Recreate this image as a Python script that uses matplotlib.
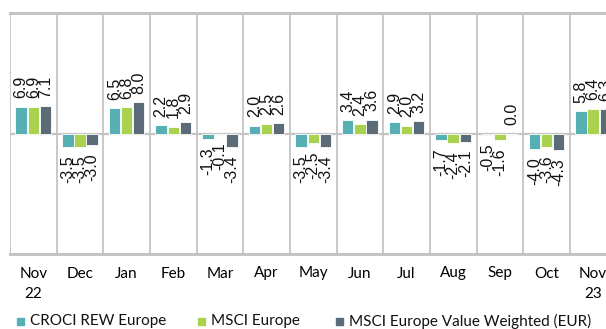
import numpy as np
import matplotlib.pyplot as plt
from matplotlib.patches import Rectangle

plt.rcParams['font.family'] = ['Lato', 'DejaVu Sans']

# Monthly returns (%)
months = ['Nov\n22', 'Dec', 'Jan', 'Feb', 'Mar', 'Apr', 'May', 'Jun', 'Jul',
          'Aug', 'Sep', 'Oct', 'Nov\n23']
croci = [6.9, -3.5, 6.5, 2.2, -1.3, 2.0, -3.5, 3.4, 2.9, -1.7, -0.5, -4.0, 5.8]
msci = [6.9, -3.5, 6.8, 1.8, -0.1, 2.5, -2.5, 2.4, 2.0, -2.4, -1.6, -3.6, 6.4]
msci_value = [7.1, -3.0, 8.0, 2.9, -3.4, 2.6, -3.4, 3.6, 3.2, -2.1, 0.0, -4.3, 6.3]
series_names = ['CROCI REW Europe', 'MSCI Europe', 'MSCI Europe Value Weighted (EUR)']

colors = ['#55AFB3', '#A9D24F', '#5B6C78']
grid_c = '#C4C4C4'

fig = plt.figure(figsize=(6.06, 3.29), dpi=100)
W, H = 606, 329
ax = fig.add_axes([10 / W, 1 - 254 / H, 606.5 / W, 241 / H])

x = np.arange(len(months))
w = 0.245
offsets = [-0.26, 0, 0.26]
for vals, off, c in zip([croci, msci, msci_value], offsets, colors):
    ax.bar(x + off, vals, width=w, color=c, edgecolor='white', linewidth=0.6, zorder=2)
    for xi, v in zip(x, vals):
        pos = v >= 0
        ax.annotate(f'{v:.1f}', xy=(xi + off, v), xytext=(0, 6 if pos else -6),
                    textcoords='offset points', rotation=90, ha='center',
                    va='bottom' if pos else 'top', fontsize=11.5, color='#111111',
                    family=['Liberation Sans Narrow', 'Liberation Sans'],
                    annotation_clip=False)

ax.set_xlim(-0.5, len(months) - 0.5)
ax.set_ylim(-31, 31)

# separators between months and the zero line
for b in np.arange(-0.5, len(months), 1.0):
    ax.axvline(b, color=grid_c, linewidth=1.3, zorder=1)
ax.axhline(0, color=grid_c, linewidth=1.6, zorder=1)
for s in ax.spines.values():
    s.set_visible(False)
ax.axhline(31, color=grid_c, linewidth=2.2, clip_on=False)
ax.axhline(-31, color=grid_c, linewidth=2.2, clip_on=False)

ax.set_yticks([])
ax.set_xticks(x)
ax.set_xticklabels(months, fontsize=11, linespacing=1.6)
ax.tick_params(axis='x', length=0, pad=9)

# legend row along the bottom
leg_x = [17, 198, 336]
leg_y = 321
for lx, c, name in zip(leg_x, colors, series_names):
    fig.patches.append(Rectangle((lx / W, 1 - (leg_y + 3.5) / H), 7 / W, 7 / H,
                                 transform=fig.transFigure, color=c))
    fig.text((lx + 13) / W, 1 - leg_y / H, name, fontsize=11, va='center',
             ha='left', color='#111111')

fig.savefig('out.png', dpi=100)
